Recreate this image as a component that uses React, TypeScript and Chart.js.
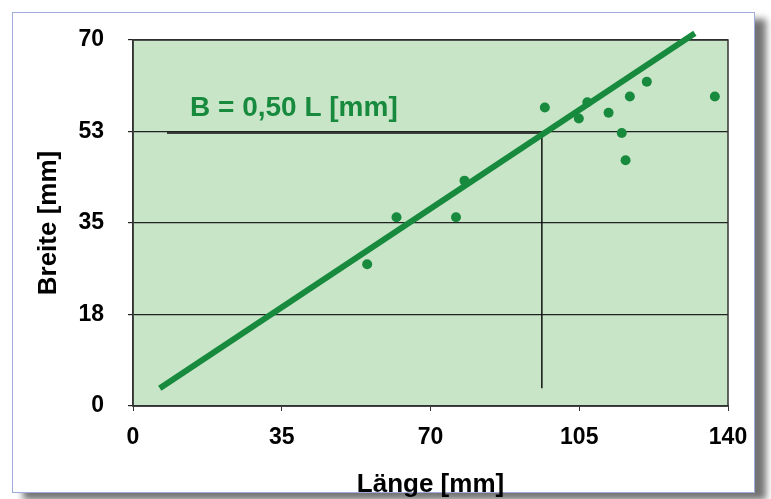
import React, { useEffect, useRef } from "react";
import { Chart, registerables } from "chart.js";

Chart.register(...registerables);

// ---- data ----
const lengthMm = [55.1, 62.0, 76.0, 78.0, 96.9, 104.9, 106.9, 111.9, 115.0, 115.9, 116.9, 120.9, 136.9];
const widthMm = [27.1, 36.1, 36.1, 43.1, 57.1, 55.0, 58.1, 56.1, 52.2, 47.0, 59.2, 62.0, 59.2];
const fitX = [6.3, 132.2];
const fitY = [3.4, 71.3];
const markerX = [8, 96.2, 96.2];
const markerY = [52.2, 52.2, 3.4];
const xTickLabels = ["0", "35", "70", "105", "140"];
const yTickLabels = ["0", "18", "35", "53", "70"];
const equationLabel = "B = 0,50 L [mm]";
const xTitle = "Länge [mm]";
const yTitle = "Breite [mm]";

const FONT = "'Liberation Sans', Arial, sans-serif";
const GREEN = "#178a3e";

const toPoints = (xs: number[], ys: number[]) => xs.map((x, i) => ({ x, y: ys[i] }));

export default function App() {
  const ref = useRef<HTMLCanvasElement | null>(null);

  useEffect(() => {
    if (!ref.current) return;
    const bgPlugin = {
      id: "plotBg",
      beforeDraw(chart: any) {
        const { ctx, chartArea: a } = chart;
        ctx.save();
        ctx.fillStyle = "#c9e5c8";
        ctx.fillRect(a.left, a.top, a.right - a.left, a.bottom - a.top);
        ctx.restore();
      },
      beforeDatasetsDraw(chart: any) {
        const { ctx, chartArea: a } = chart;
        ctx.save();
        ctx.strokeStyle = "#333";
        ctx.lineWidth = 1.5;
        ctx.strokeRect(a.left, a.top, a.right - a.left, a.bottom - a.top);
        ctx.restore();
      },
      afterDraw(chart: any) {
        const { ctx, chartArea: a } = chart;
        ctx.save();
        // equation label
        ctx.fillStyle = GREEN;
        ctx.font = `bold 28px ${FONT}`;
        ctx.textAlign = "left";
        ctx.textBaseline = "alphabetic";
        ctx.fillText(equationLabel, 190, 116);
        // x title
        ctx.fillStyle = "#000";
        ctx.font = `bold 26px ${FONT}`;
        ctx.textAlign = "center";
        ctx.fillText(xTitle, (a.left + a.right) / 2, 492);
        // y title
        ctx.translate(56, (a.top + a.bottom) / 2);
        ctx.rotate(-Math.PI / 2);
        ctx.fillText(yTitle, 0, 0);
        ctx.restore();
      },
    };

    const chart = new Chart(ref.current, {
      type: "scatter",
      data: {
        datasets: [
          {
            type: "line",
            data: toPoints(markerX, markerY),
            borderColor: "#111",
            borderWidth: 1.5,
            pointRadius: 0,
            fill: false,
            order: 3,
          } as any,
          {
            type: "line",
            data: toPoints(fitX, fitY),
            borderColor: GREEN,
            borderWidth: 6,
            borderCapStyle: "butt",
            pointRadius: 0,
            fill: false,
            clip: false,
            order: 2,
          } as any,
          {
            type: "scatter",
            data: toPoints(lengthMm, widthMm),
            backgroundColor: GREEN,
            borderColor: GREEN,
            pointRadius: 5,
            borderWidth: 0,
            order: 1,
          },
        ],
      },
      options: {
        responsive: false,
        animation: false,
        events: [],
        layout: { padding: { top: 40, right: 43, left: 0, bottom: 0 } },
        plugins: { legend: { display: false }, tooltip: { enabled: false } },
        scales: {
          x: {
            type: "linear",
            min: 0,
            max: 140,
            afterFit: (s: any) => {
              s.height = 93;
            },
            ticks: {
              stepSize: 35,
              color: "#000",
              padding: 13,
              maxRotation: 0,
              font: { family: FONT, size: 23, weight: "bold" },
              callback: (_v: any, i: number) => xTickLabels[i],
            },
            grid: { drawOnChartArea: false, drawTicks: true, tickLength: 5, color: "#333" },
            border: { display: true, color: "#333", width: 1.5 },
          },
          y: {
            type: "linear",
            min: 0,
            max: 70,
            afterFit: (s: any) => {
              s.width = 133;
            },
            ticks: {
              stepSize: 17.5,
              color: "#000",
              padding: 24,
              font: { family: FONT, size: 23, weight: "bold" },
              callback: (_v: any, i: number) => yTickLabels[i],
            },
            grid: { color: "#222", lineWidth: 1.2, tickLength: 5 },
            border: { display: true, color: "#333", width: 1.5 },
          },
        },
      },
      plugins: [bgPlugin],
    } as any);
    return () => chart.destroy();
  }, []);

  return (
    <div style={{ position: "fixed", left: 0, top: 0, width: 771, height: 499, background: "#fff", overflow: "hidden" }}>
      <div
        style={{
          position: "absolute",
          left: 12,
          top: 12,
          width: 741,
          height: 479,
          border: "1px solid #9eabdc",
          background: "#fff",
          boxShadow: "11px 7px 7px rgba(0,0,0,0.55)",
        }}
      />
      <canvas ref={ref} width={771} height={499} style={{ position: "absolute", left: 0, top: 0 }} />
    </div>
  );
}
